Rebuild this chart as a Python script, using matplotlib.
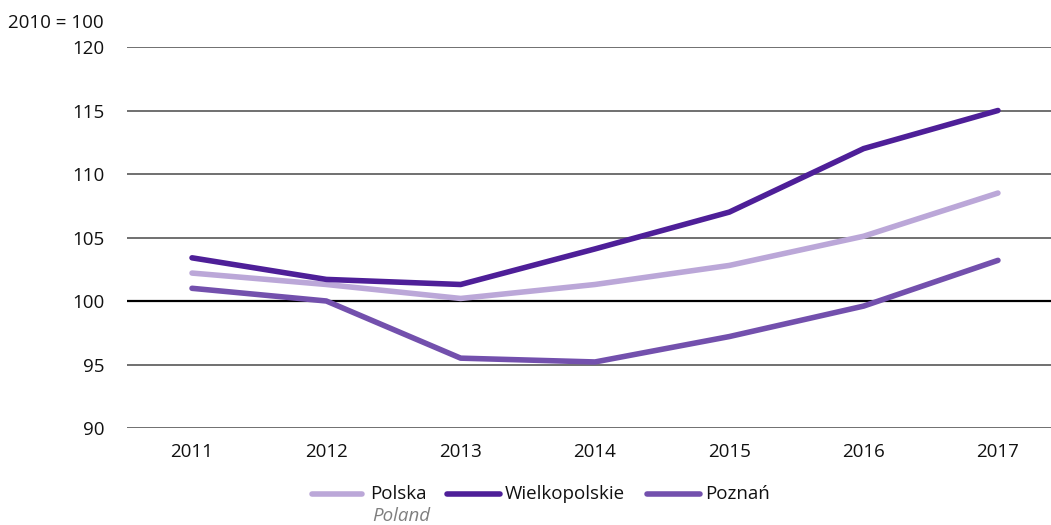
import matplotlib.pyplot as plt
from matplotlib.lines import Line2D

plt.rcParams['font.family'] = ['Open Sans', 'DejaVu Sans']

years = [2011, 2012, 2013, 2014, 2015, 2016, 2017]
polska = [102.2, 101.3, 100.2, 101.3, 102.8, 105.1, 108.5]
wielkopolskie = [103.4, 101.7, 101.3, 104.1, 107.0, 112.0, 115.0]
poznan = [101.0, 100.0, 95.5, 95.2, 97.2, 99.6, 103.2]

series = [
    ('Polska', polska, '#bba7d8'),
    ('Wielkopolskie', wielkopolskie, '#4e1f98'),
    ('Poznań', poznan, '#7350ad'),
]
yticks = [90, 95, 100, 105, 110, 115, 120]
fs = 13.5

fig = plt.figure(figsize=(10.51, 5.25), dpi=100)
ax = fig.add_axes([127 / 1051, 1 - 428 / 525, 1 - 127 / 1051, (428 - 47) / 525])

for y in yticks:
    ax.axhline(y, color='black' if y == 100 else '#707070',
               lw=1.6 if y == 100 else 1.4, zorder=1)

for name, vals, col in series:
    ax.plot(years, vals, color=col, lw=4, solid_capstyle='round', zorder=3)

ax.set_xlim(2010.516, 2017.395)
ax.set_ylim(90, 120)
ax.set_xticks(years)
ax.set_yticks(yticks)
ax.tick_params(length=0, labelsize=fs, colors='#111111')
ax.tick_params(axis='y', pad=16.5)
ax.tick_params(axis='x', pad=11)
for s in ax.spines.values():
    s.set_visible(False)

fig.text(104 / 1051, 1 - 23 / 525, '2010 = 100', ha='right', va='center',
         fontsize=fs, color='#111111')

# legend drawn by hand
leg = [(312, 362, 370), (447, 500, 505), (647, 700, 705)]
for (x0, x1, xt), (name, vals, col) in zip(leg, series):
    yl = 1 - 494 / 525
    fig.add_artist(Line2D([x0 / 1051, x1 / 1051], [yl, yl], color=col, lw=4,
                          solid_capstyle='round', transform=fig.transFigure))
    fig.text(xt / 1051, yl, name, ha='left', va='center', fontsize=fs,
             color='#111111')
fig.text(372 / 1051, 1 - 516 / 525, 'Poland', ha='left', va='center',
         fontsize=fs, style='italic', color='#7f7f7f')

fig.savefig('out.png', dpi=100)
